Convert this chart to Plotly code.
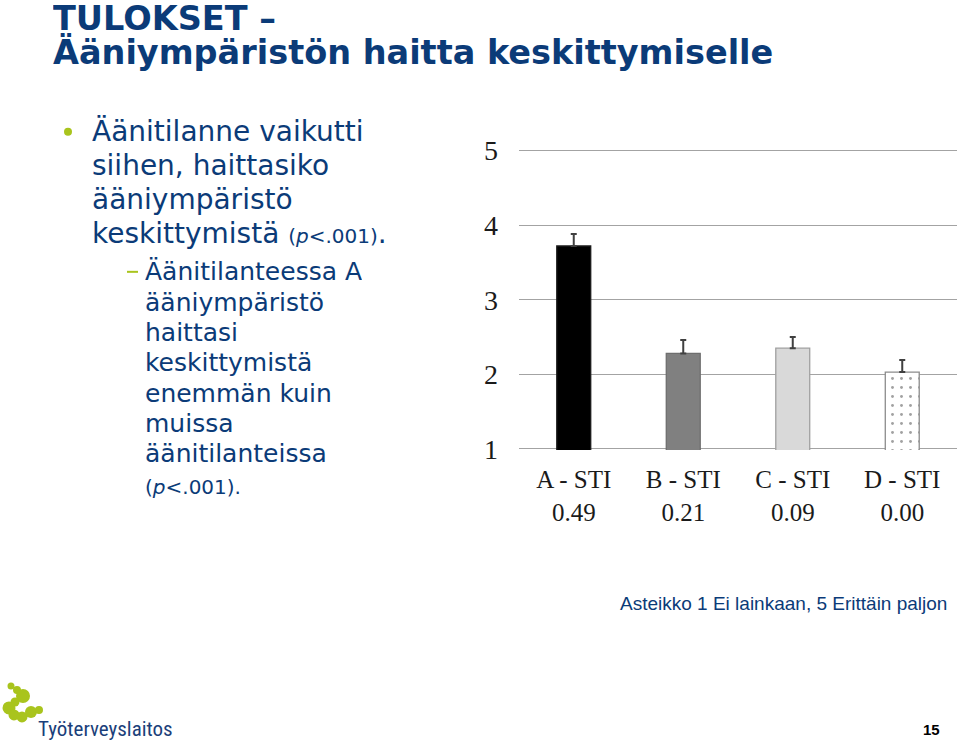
import plotly.graph_objects as go

# ---- data ----
categories = ["A - STI<br>0.49", "B - STI<br>0.21", "C - STI<br>0.09", "D - STI<br>0.00"]
means = [3.72, 2.28, 2.35, 2.03]
err_up = [0.16, 0.18, 0.15, 0.16]
y_ticks = [1, 2, 3, 4, 5]

W, H = 960, 743
# pixel positions of value 1 and 5 in the plot
Y1, Y5 = 449.0, 150.7
PPU = (Y1 - Y5) / 4.0
YMIN, YMAX = 0.985, 5.02
L, R = 519, 957
B = Y1 + (1 - YMIN) * PPU
T = Y5 - (YMAX - 5) * PPU

def px(x):
    return (x - L) / (R - L)

def py(y):
    return (B - y) / (B - T)

NAVY = "#0b3b78"
GREEN = "#a9c41d"

fig = go.Figure()
fig.add_trace(go.Bar(
    x=categories, y=means,
    width=0.31,
    marker=dict(
        color=["#000000", "#808080", "#d9d9d9", "#ffffff"],
        line=dict(color=["#1a1a1a", "#6e6e6e", "#a0a0a0", "#8c8c8c"], width=1.3),
        pattern=dict(shape=["", "", "", "."], fgcolor="#000000", bgcolor="#ffffff",
                     size=9, solidity=0.08),
    ),
    error_y=dict(type="data", array=err_up, arrayminus=[0, 0, 0, 0], symmetric=False,
                 color="#404040", thickness=2, width=3),
    showlegend=False,
))

fig.update_layout(
    width=W, height=H,
    margin=dict(l=L, r=W - R, t=T, b=H - B, pad=0),
    paper_bgcolor="white", plot_bgcolor="white",
    xaxis=dict(showgrid=False, showline=False, zeroline=False, ticks="",
               tickfont=dict(family="Liberation Serif, Times New Roman, serif", size=25, color="#1a1a1a"),
               ticklabelstandoff=12, range=[-0.5, 3.5], fixedrange=True),
    yaxis=dict(range=[YMIN, YMAX], tickvals=y_ticks, ticktext=[str(v) for v in y_ticks],
               showgrid=True, gridcolor="#a3a3a3", gridwidth=1.4, zeroline=False, showline=False,
               tickfont=dict(family="Liberation Serif, Times New Roman, serif", size=28, color="#1a1a1a"),
               ticklabelstandoff=20, fixedrange=True),
)

ann = []
def text(x, y, s, size, color=NAVY, family="DejaVu Sans, Verdana, sans-serif", xanchor="left",
         bold=False, height=None):
    if bold:
        s = "<b>" + s + "</b>"
    a = dict(x=px(x), y=py(y), xref="paper", yref="paper", text=s, showarrow=False,
             xanchor=xanchor, yanchor="middle", align="left",
             font=dict(family=family, size=size, color=color))
    if height:
        a["height"] = height
    ann.append(a)

# Title
text(51, 18, "TULOKSET –", 33.5, bold=True, height=30)
text(51, 52, "Ääniympäristön haitta keskittymiselle", 33.5, bold=True)

# Bullet
small = "<span style='font-size:20px'>(<i>p</i>&lt;.001)</span>"
bul = ["Äänitilanne vaikutti", "siihen, haittasiko", "ääniympäristö",
       "keskittymistä " + small + "."]
for i, s in enumerate(bul):
    text(90, 131 + i * 34, s, 28, height=32)

sub = ["Äänitilanteessa A", "ääniympäristö", "haittasi", "keskittymistä",
       "enemmän kuin", "muissa", "äänitilanteissa"]
for i, s in enumerate(sub):
    text(143, 272 + i * 30.3, s, 25, height=29)
text(143, 487, "(<i>p</i>&lt;.001).", 20)

# Footnote
text(618, 604, "Asteikko 1 Ei lainkaan, 5 Erittäin paljon", 19,
     family="Liberation Sans, Arial, sans-serif")

# Logo text and page number
text(36, 729, "Työterveyslaitos", 21, color="#1b3f7a",
     family="Liberation Sans Narrow, Roboto Condensed, Liberation Sans, sans-serif")
text(931, 730, "15", 15, color="#000000", family="Liberation Sans, Arial, sans-serif",
     xanchor="center", bold=True)

fig.update_layout(annotations=ann)

shapes = []
def circle(cx, cy, r, color=GREEN):
    shapes.append(dict(type="circle", xref="paper", yref="paper",
                       x0=px(cx - r), x1=px(cx + r), y0=py(cy + r), y1=py(cy - r),
                       fillcolor=color, line=dict(width=0), layer="above"))

# bullet dot & dash
circle(68, 132, 4)
shapes.append(dict(type="line", xref="paper", yref="paper",
                   x0=px(127), x1=px(138), y0=py(272), y1=py(272),
                   line=dict(color=GREEN, width=2)))

# logo blobs
circle(11, 686, 3.5)
circle(17, 690, 4)
circle(23, 696, 7)
circle(15, 702, 4.5)
circle(9, 708, 6.5)
circle(14, 715, 5.5)
circle(22, 717, 5.5)
circle(31, 712, 6)
circle(39, 710, 4)
fig.update_layout(shapes=shapes)

fig.write_html("out.html", config={"displayModeBar": False},
               post_script="document.body.style.margin='0';document.body.style.overflow='hidden';")
